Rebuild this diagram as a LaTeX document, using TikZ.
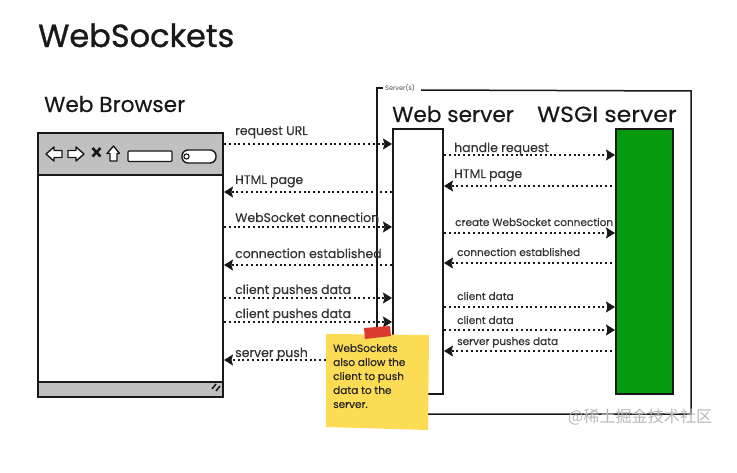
\documentclass[tikz,border=0pt]{standalone}
\usepackage{fontspec}
\setmainfont{Poppins}
\newfontfamily\cjk{Noto Sans CJK SC}
\newfontfamily\fatfont[FakeBold=0.9]{Poppins}
\newfontfamily\midfont[FakeBold=0.35]{Poppins}
\usetikzlibrary{arrows.meta}
\definecolor{barg}{HTML}{C0C0C0}
\definecolor{wsgi}{HTML}{069A0E}
\definecolor{note}{HTML}{FCDB55}
\definecolor{tape}{HTML}{DB3A2E}
\tikzset{
  x=1pt,y=-1pt,
  ink/.style={draw=black!90,line width=1.5pt},
  boxn/.style={ink,draw,inner sep=0pt,outer sep=0pt,anchor=north west},
  msg/.style={black!90,line width=2pt,dash pattern=on 2pt off 2.8pt,{-{Stealth[length=9pt,width=11pt,inset=1.5pt,line width=0.8pt]}}},
  lbl/.style={anchor=base west,inner sep=0pt,font=\midfont\fontsize{12.5}{14}\selectfont,text=black!80},
  lbls/.style={anchor=base west,inner sep=0pt,font=\midfont\fontsize{10.5}{12}\selectfont,text=black!80},
  head/.style={anchor=base west,inner sep=0pt,text=black!90},
  iconb/.style={draw=black!90,line width=1.4pt,fill=white,line join=round},
}
\begin{document}
\begin{tikzpicture}
\useasboundingbox (0,0) rectangle (737,473);
\node[head,font=\fatfont\fontsize{32}{36}\selectfont] (title) at (38,47) {WebSockets};
\node[head,font=\midfont\fontsize{21.7}{24}\selectfont] (browsertitle) at (44,112) {Web Browser};
% browser
\node[boxn,fill=white,minimum width=185pt,minimum height=264pt] (browser) at (38,133) {};
\node[boxn,fill=barg,minimum width=185pt,minimum height=42pt] (top) at (38,133) {};
\node[boxn,fill=barg,minimum width=185pt,minimum height=15pt] (bottom) at (38,382) {};
% icons
\draw[iconb] (46,154)--(54,147)--(54,150.5)--(62,150.5)--(62,157.5)--(54,157.5)--(54,161)--cycle;
\draw[iconb] (84,154)--(76,147)--(76,150.5)--(68,150.5)--(68,157.5)--(76,157.5)--(76,161)--cycle;
\draw[black!90,line width=2.6pt] (92.5,148)--(100.5,156.5) (100.5,148)--(92.5,156.5);
\draw[iconb] (113.5,146)--(119.5,153.5)--(117,153.5)--(117,161)--(110,161)--(110,153.5)--(107,153.5)--cycle;
\draw[iconb,rounded corners=1pt] (128,151) rectangle (172,161.5);
\draw[iconb,rounded corners=6pt] (182,150) rectangle (216,163);
\draw[black!90,line width=1.1pt] (186.5,156.5) circle (2.6);
\draw[black!90,line width=1.5pt] (212,389)--(216,384) (216,391)--(220,386);
% servers
\draw[ink] (377,330)--(377,88)--(383,88);
\node[inner sep=0pt,anchor=west,font=\fontsize{6.5}{8}\selectfont,text=black!70] (srv) at (385,88) {Server(s)};
\draw[ink] (421,90)--(691,91)--(691,414)--(428,414);
\node[head,font=\midfont\fontsize{21.7}{24}\selectfont] (webtitle) at (392,122) {Web server};
\node[head,font=\midfont\fontsize{22}{24}\selectfont] (wsgititle) at (537,122) {\scalebox{1.07}[1]{WSGI server}};
\node[boxn,fill=white,minimum width=50pt,minimum height=265pt] (web) at (393,129) {};
\node[boxn,fill=wsgi,minimum width=57pt,minimum height=265pt] (wsgi) at (616,129) {};
% left labels
\node[lbl] (l1) at (235,135) {request URL};
\node[lbl] (l2) at (235,184) {HTML page};
\node[lbl] (l3) at (235,222) {WebSocket connection};
\node[lbl] (l4) at (235,258) {connection established};
\node[lbl] (l5) at (235,294) {client pushes data};
\node[lbl] (l6) at (235,318) {client pushes data};
\node[lbl] (l7) at (235,357) {server push};
\coordinate (a1) at (224,144); \coordinate (b1) at (392,144);
\coordinate (a2) at (224,192); \coordinate (b2) at (392,192);
\coordinate (a3) at (224,227); \coordinate (b3) at (392,227);
\coordinate (a4) at (224,265); \coordinate (b4) at (392,265);
\coordinate (a5) at (224,298); \coordinate (b5) at (392,298);
\coordinate (a6) at (224,322); \coordinate (b6) at (392,322);
\coordinate (a7) at (224,360); \coordinate (b7) at (326,360);
\draw[msg] (a1)--(b1);
\draw[msg] (b2)--(a2);
\draw[msg] (a3)--(b3);
\draw[msg] (b4)--(a4);
\draw[msg] (a5)--(b5);
\draw[msg] (a6)--(b6);
\draw[msg] (b7)--(a7);
% right labels
\node[lbl] (r1) at (454,152) {handle request};
\node[lbl] (r2) at (454,178) {HTML page};
\node[lbls] (r3) at (455,226) {create WebSocket connection};
\node[lbls] (r4) at (457,256) {connection established};
\node[lbls] (r5) at (457,300) {client data};
\node[lbls] (r6) at (457,324) {client data};
\node[lbls] (r7) at (457,345) {server pushes data};
\coordinate (c1) at (444,155); \coordinate (d1) at (615,155);
\coordinate (c2) at (444,186); \coordinate (d2) at (612,186);
\coordinate (c3) at (444,233); \coordinate (d3) at (615,233);
\coordinate (c4) at (444,263); \coordinate (d4) at (612,263);
\coordinate (c5) at (444,307); \coordinate (d5) at (615,307);
\coordinate (c6) at (444,330); \coordinate (d6) at (615,330);
\coordinate (c7) at (444,351); \coordinate (d7) at (612,351);
\draw[msg] (c1)--(d1);
\draw[msg] (d2)--(c2);
\draw[msg] (c3)--(d3);
\draw[msg] (d4)--(c4);
\draw[msg] (c5)--(d5);
\draw[msg] (c6)--(d6);
\draw[msg] (d7)--(c7);
% note
\path[fill=note] (326,334)--(429,335)--(428,430)--(326,427)--cycle;
\path[fill=tape] (364,328)--(390,326)--(391,336)--(365,339)--cycle;
\node[anchor=north west,inner sep=0pt,align=left,font=\midfont\fontsize{10.5}{14}\selectfont,text=black!85] (notetext) at (333,344) {WebSockets\\also allow the\\client to push\\data to the\\server.};
\node[anchor=west,inner sep=0pt,font=\cjk\fontsize{16.1}{18}\selectfont,text=black!28] (mark) at (568,417) {@稀土掘金技术社区};
\end{tikzpicture}
\end{document}
